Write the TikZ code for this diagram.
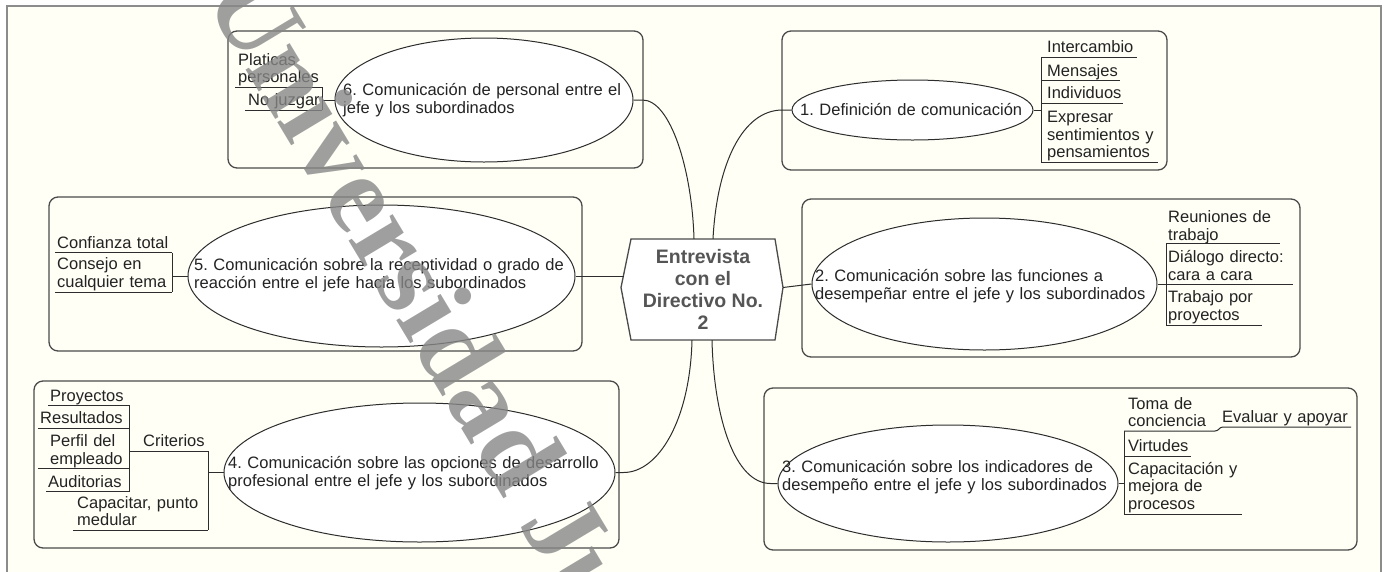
\documentclass[tikz,border=0pt]{standalone}
\usepackage{fontspec}
\setmainfont{Liberation Sans}
\newfontfamily\wmfont{Liberation Serif}
\usetikzlibrary{shapes.geometric,calc}
\definecolor{bgc}{RGB}{255,255,246}
\definecolor{framec}{RGB}{140,140,140}
\definecolor{boxc}{RGB}{75,75,75}
\definecolor{linec}{RGB}{45,45,45}
\definecolor{txtc}{RGB}{35,35,35}
\definecolor{ctrc}{RGB}{85,85,85}
\definecolor{wmc}{RGB}{135,135,135}
\newcommand\mmfont{\fontsize{16.5}{17.5}\selectfont}
\frenchspacing
\begin{document}
\begin{tikzpicture}[x=1pt,y=-1pt,
  box/.style={draw=boxc, line width=1.3pt, rounded corners=9pt},
  topic/.style={ellipse, draw=linec, fill=white, line width=1pt, inner sep=0},
  ttext/.style={font=\mmfont, text=txtc, align=left, inner sep=0, anchor=west},
  leaf/.style={font=\mmfont, text=txtc, align=left, inner sep=0, anchor=base west, text width=#1},
  leaf/.default=140pt,
  conn/.style={draw=linec, line width=1pt},
  uline/.style={draw=linec, line width=1pt},
  hexs/.style={draw=boxc, fill=white, line width=1.3pt}]
\useasboundingbox (0,0) rectangle (1387,571);
\fill[white] (0,0) rectangle (1387,571);
\fill[bgc] (7,6) rectangle (1381,575);
\draw[framec, line width=2pt] (7,575) -- (7,6) -- (1381,6) -- (1381,575);

% boxes
\draw[box] (228,31) rectangle (643,168);
\draw[box] (782,31) rectangle (1167,170);
\draw[box] (49,197) rectangle (582,351);
\draw[box] (802,199) rectangle (1300,357);
\draw[box] (34,381) rectangle (619,548);
\draw[box] (764,388) rectangle (1357,550);

% central node
\draw[hexs] (631,239) -- (775,239) -- (783,287.5) -- (775,340) -- (631,340) -- (621,287.5) -- cycle;
\node[font=\fontsize{19.5}{22}\selectfont\bfseries, text=ctrc, align=center, inner sep=0,
      minimum width=144pt, minimum height=101pt] (ctr) at (703,289.5)
      {Entrevista\\con el\\Directivo No.\\2};
\coordinate (hexL) at (623.5,276);
\coordinate (hexR) at (783,287.5);

% topics
\node[topic, minimum width=298pt, minimum height=124pt] (e6) at (484,100) {};
\node[ttext, text width=290pt] (t6) at (343,100) {6. Comunicación de personal entre el\\jefe y los subordinados};
\node[topic, minimum width=241pt, minimum height=60pt] (e1) at (912.5,110) {};
\node[ttext, text width=230pt] (t1) at (800,110) {1. Definición de comunicación};
\node[topic, minimum width=345pt, minimum height=132pt] (e2) at (984.5,284) {};
\node[ttext, text width=340pt] (t2) at (815,286) {2. Comunicación sobre las funciones a\\desempeñar entre el jefe y los subordinados};
\node[topic, minimum width=387pt, minimum height=142pt] (e5) at (381.5,276) {};
\node[ttext, text width=380pt] (t5) at (194,275) {5. Comunicación sobre la receptividad o grado de\\reacción entre el jefe hacia los subordinados};
\node[topic, minimum width=391pt, minimum height=139pt] (e4) at (419.5,472.5) {};
\node[ttext, text width=385pt] (t4) at (228,473) {4. Comunicación sobre las opciones de desarrollo\\profesional entre el jefe y los subordinados};
\node[topic, minimum width=340pt, minimum height=117pt] (e3) at (948,483.5) {};
\node[ttext, text width=335pt] (t3) at (782,477) {3. Comunicación sobre los indicadores de\\desempeño entre el jefe y los subordinados};

% main connectors
\draw[conn] (e6.east) -- ++(9,0) .. controls +(28,0) and +(-2,-69) .. ($(ctr.north)+(-9,0)$);
\draw[conn] ($(ctr.north)+(10,0)$) .. controls +(4,-75) and +(-40,0) .. ($(e1.west)+(-9,0)$) -- (e1.west);
\draw[conn] (e5.east) -- (hexL);
\draw[conn] (hexR) -- (e2.west);
\draw[conn] ($(ctr.south)+(-11,0)$) .. controls +(-2,80) and +(35,0) .. ($(e4.east)+(8,0)$) -- (e4.east);
\draw[conn] ($(ctr.south)+(9,0)$) .. controls +(2,80) and +(-35,0) .. ($(e3.west)+(-7,0)$) -- (e3.west);

% box 6 leaves
\node[leaf] (l6a) at (238,65) {Platicas\\personales};
\node[leaf] (l6b) at (248,105.5) {No juzgar};
\draw[uline] (e6.west) -- (322,100);
\draw[uline] (322,87) -- (322,110);
\draw[uline] (235,87) -- (322,87);
\draw[uline] (245,110) -- (322,110);

% box 1 leaves
\node[leaf] (l1a) at (1047,52.5) {Intercambio};
\node[leaf] (l1b) at (1047,76) {Mensajes};
\node[leaf] (l1c) at (1047,98.5) {Individuos};
\node[leaf] (l1d) at (1047,122.5) {Expresar\\sentimientos y\\pensamientos};
\draw[uline] (e1.east) -- (1041,110);
\draw[uline] (1041,57) -- (1041,162);
\draw[uline] (1041,57) -- (1137,57);
\draw[uline] (1041,80) -- (1120,80);
\draw[uline] (1041,103) -- (1123,103);
\draw[uline] (1041,162) -- (1158,162);

% box 2 leaves
\node[leaf] (l2a) at (1168,222.5) {Reuniones de\\trabajo};
\node[leaf] (l2b) at (1168,262.5) {Diálogo directo:\\cara a cara};
\node[leaf] (l2c) at (1168,302.5) {Trabajo por\\proyectos};
\draw[uline] (e2.east) -- (1166,284);
\draw[uline] (1166,243) -- (1166,325);
\draw[uline] (1166,243) -- (1280,243);
\draw[uline] (1166,284) -- (1293,284);
\draw[uline] (1166,325) -- (1262,325);

% box 5 leaves
\node[leaf] (l5a) at (57,248) {Confianza total};
\node[leaf] (l5b) at (57,269.5) {Consejo en\\cualquier tema};
\draw[uline] (e5.west) -- (172,276);
\draw[uline] (172,252.5) -- (172,292);
\draw[uline] (55,252.5) -- (172,252.5);
\draw[uline] (55,292) -- (172,292);

% box 4 leaves
\node[leaf] (l4a) at (50,401) {Proyectos};
\node[leaf] (l4b) at (40,423.5) {Resultados};
\node[leaf] (l4c) at (50,446.5) {Perfil del\\empleado};
\node[leaf] (l4d) at (48,487) {Auditorias};
\node[leaf] (l4e) at (143,446.5) {Criterios};
\node[leaf] (l4f) at (77,508) {Capacitar, punto\\medular};
\draw[uline] (e4.west) -- (208,472.5);
\draw[uline] (208,451) -- (208,530);
\draw[uline] (129,451) -- (208,451);
\draw[uline] (73,530) -- (208,530);
\draw[uline] (129,405) -- (129,491.5);
\draw[uline] (48,405) -- (129,405);
\draw[uline] (38,428) -- (129,428);
\draw[uline] (38,468.5) -- (129,468.5);
\draw[uline] (46,491.5) -- (129,491.5);

% box 3 leaves
\node[leaf] (l3a) at (1128,409) {Toma de\\conciencia};
\node[leaf] (l3b) at (1222,422.5) {Evaluar y apoyar};
\node[leaf] (l3c) at (1128,451) {Virtudes};
\node[leaf] (l3d) at (1128,474) {Capacitación y\\mejora de\\procesos};
\draw[uline] (e3.east) -- (1124,483.5);
\draw[uline] (1124,431) -- (1124,514);
\draw[uline] (1124,431) -- (1215,431) .. controls (1219,431) and (1219,427) .. (1223,427) -- (1351,427);
\draw[uline] (1124,456) -- (1191,456);
\draw[uline] (1124,514) -- (1242,514);

% watermark
\node[font=\wmfont\bfseries\fontsize{112}{112}\selectfont, text=wmc, opacity=0.8, rotate=-59,
      anchor=base west, inner sep=0] (wm) at (203,-2) {Universidad Juárez Autónoma de Tabasco};
\end{tikzpicture}
\end{document}
